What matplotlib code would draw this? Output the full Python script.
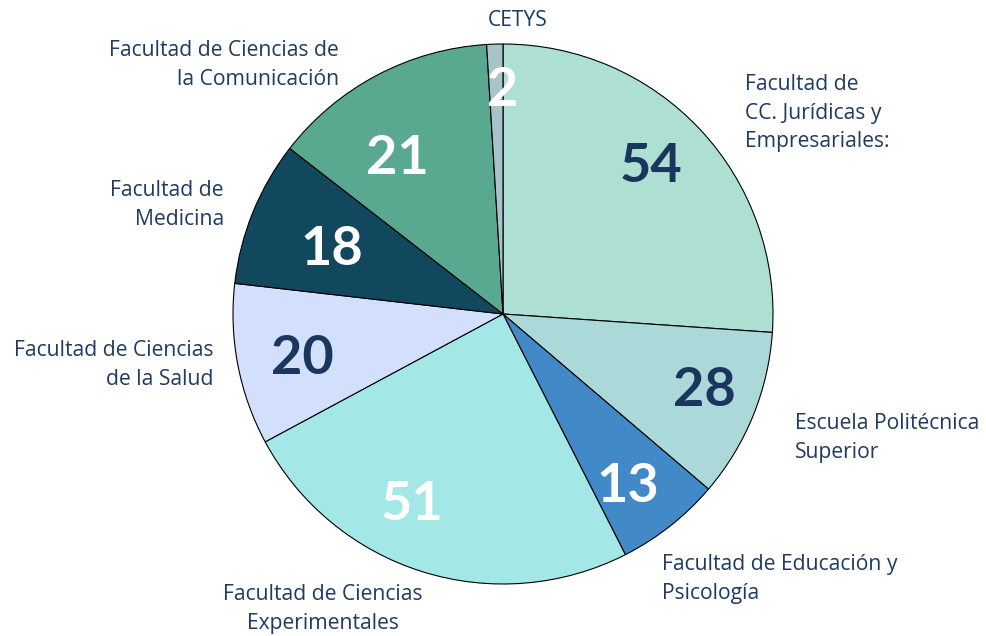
import matplotlib.pyplot as plt

# slice sizes as drawn, clockwise from the top
sizes = [54, 21, 13, 51, 20, 18, 28, 2]
# numbers printed on the slices
shown = [54, 28, 13, 51, 20, 18, 21, 2]
names = ["Facultad de\nCC. Jurídicas y\nEmpresariales:",
         "Escuela Politécnica\nSuperior",
         "Facultad de Educación y\nPsicología",
         "Facultad de Ciencias\nExperimentales",
         "Facultad de Ciencias\nde la Salud",
         "Facultad de\nMedicina",
         "Facultad de Ciencias de\nla Comunicación",
         "CETYS"]
colors = ["#ADDFD2", "#ABD8D8", "#4189C7", "#A3E7E6",
          "#D2DFFD", "#12485E", "#58A98F", "#A8C4CB"]
num_colors = ["#1B365D", "#1B365D", "white", "white",
              "#1B365D", "white", "white", "white"]

W, H = 987, 636
fig = plt.figure(figsize=(W / 100, H / 100), dpi=100)
cx, cy, r = 503, 314, 270
ax = fig.add_axes([(cx - r) / W, (H - cy - r) / H, 2 * r / W, 2 * r / H])

wedges, _ = ax.pie(sizes, colors=colors, startangle=90, counterclock=False,
                   wedgeprops=dict(edgecolor="black", linewidth=0.8))
ax.set_aspect("equal")
ax.set_xlim(-1, 1)
ax.set_ylim(-1, 1)

navy = "#1F3B63"

# number labels (pixel positions from the reference)
num_pos = [(651, 166), (704, 390), (628, 487), (412, 505),
           (302, 358), (332, 249), (397, 158), (503, 90)]
for v, (px, py), c in zip(shown, num_pos, num_colors):
    fig.text(px / W, 1 - py / H, str(v), ha="center", va="center",
             fontsize=39, fontweight="bold", color=c, family="Lato")

# outer labels: x, y of the text anchor, horizontal alignment
lab_pos = [(745, 113, "left"), (795, 438, "left"), (662, 579, "left"),
           (323, 609, "center"), (214, 365, "right"), (224, 205, "right"),
           (339, 65, "right"), (518, 20, "center")]
for name, (px, py, ha) in zip(names, lab_pos):
    fig.text(px / W, 1 - py / H, name, ha=ha, va="center", fontsize=15.2,
             color=navy, family="Open Sans", linespacing=1.49, multialignment=ha)

fig.savefig("out.png", dpi=100)
